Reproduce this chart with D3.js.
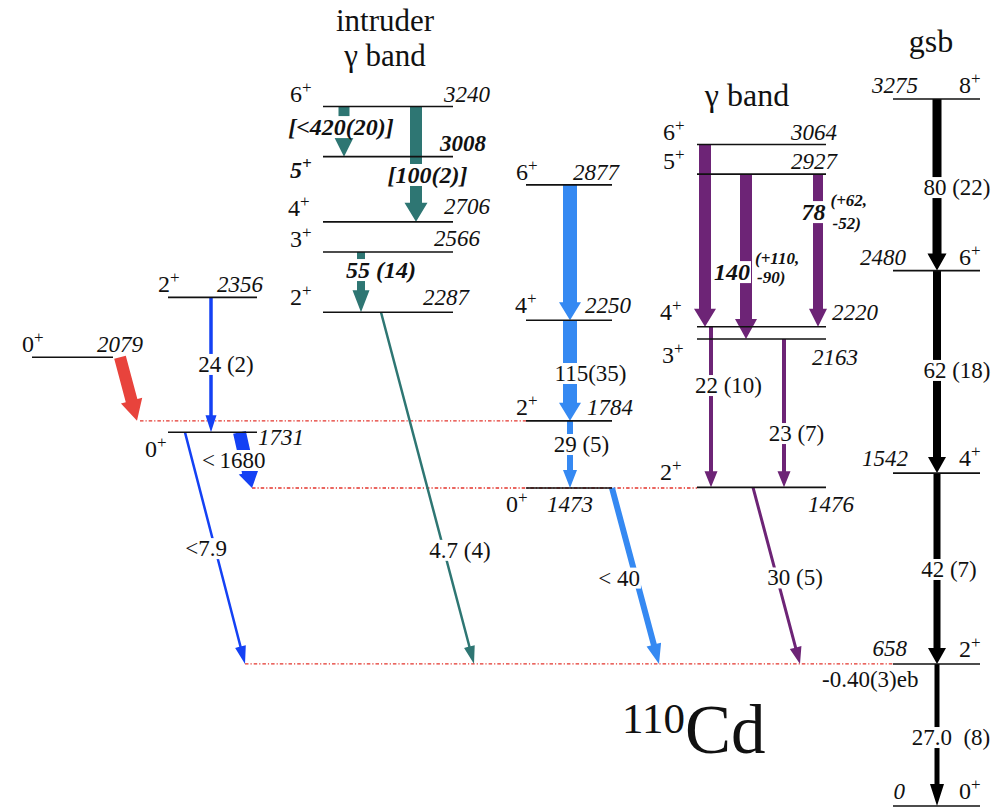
<!DOCTYPE html>
<html><head><meta charset="utf-8">
<script src="https://cdn.jsdelivr.net/npm/d3@7/dist/d3.min.js"></script>
<style>
html,body{margin:0;padding:0;background:#fff;font-family:'Liberation Serif','DejaVu Serif',serif;}
svg{display:block;}
svg text{font-family:'Liberation Serif','DejaVu Serif',serif;white-space:pre;}
</style></head><body>
<svg id="chart" width="1007" height="809"></svg>
<script>
// ---- Level scheme data (energies in keV) ----
const levelEnergies = [0, 658, 1542, 2480, 3275, 2079, 2356, 1731, 2287, 2566, 2706, 3008, 3240, 1473, 1784, 2250, 2877, 1476, 2163, 2220, 2927, 3064];
const levelSpins    = ["0","2","4","6","8","0","2","0","2","3","4","5","6","0","2","4","6","2","3","4","5","6"];
const levelBands    = ["gsb","gsb","gsb","gsb","gsb","a","b","b","intr","intr","intr","intr","intr","mid","mid","mid","mid","gam","gam","gam","gam","gam"];

// ---- Transitions: initial level, final level, B(E2) label ----
const transFrom   = [3275, 2480, 1542, 658, 2079, 2356, 1731, 1731, 3240, 3240, 2566, 2287, 2877, 2250, 1784, 1473, 3064, 2927, 2927, 2220, 2163, 1476];
const transTo     = [2480, 1542, 658, 0, 1784, 1731, 1473, 658, 3008, 2706, 2287, 658, 2250, 1784, 1473, 658, 2220, 2163, 2220, 1476, 1476, 658];
const transLabels = ["80 (22)", "62 (18)", "42 (7)", "27.0  (8)", "", "24 (2)", "<\u20091680", "<7.9", "[<420(20)]", "[100(2)]", "55 (14)", "4.7 (4)", "", "115(35)", "29 (5)", "< 40", "", "140", "78", "22 (10)", "23 (7)", "30 (5)"];
const transExtra  = {17: ["(+110,", "-90)"], 18: ["(+62,", "-52)"]};

// Reference lines joining levels across bands
const guideEnergies = [1784, 1473, 658];

const bandTitles = [["intruder", "\u03b3 band"], ["\u03b3 band"], ["gsb"]];
const quadMoment = "-0.40(3)eb";
const nucleusMass = "110", nucleusName = "Cd";

// ---- Layout ----
const FONT = "'Liberation Serif','DejaVu Serif',serif";
const svg = d3.select("#chart").attr("font-family", FONT);
const y = d3.scaleLinear().domain([0, 3275]).range([806, 99]);

const bandSpan = {gsb:[893,980], a:[32,113], b:[168,257], intr:[323,453], mid:[526,612], gam:[697,826]};
const bandColor = {gsb:"#000000", a:"#e8433c", b:"#1441f4", intr:"#2e7673", mid:"#3589f2", gam:"#6d2476"};

// spin label [x, dy, anchor, bold], energy label [x, dy, anchor, bold]
const levelLabelPos = {
  0:[[959,-7,"start"],[905,-7,"end"]],
  658:[[959,-7,"start"],[907,-8,"end"]],
  1542:[[959,-7,"start"],[908,-7,"end"]],
  2480:[[959,-6,"start"],[906,-6,"end"]],
  3275:[[959,-6,"start"],[918,-6,"end"]],
  2079:[[22,-5,"start"],[97,-5,"start"]],
  2356:[[158,-5,"start"],[217,-5,"start"]],
  1731:[[145,25,"start"],[258,13,"start"]],
  3240:[[290,-5,"start"],[490,-5,"end"]],
  3008:[[290,21,"start",true],[486,-6,"end",true]],
  2706:[[288,-6,"start"],[490,-8,"end"]],
  2566:[[290,-5,"start"],[480,-6,"end"]],
  2287:[[290,-7,"start"],[469,-7,"end"]],
  2877:[[516,-5,"start"],[573,-5,"start"]],
  2250:[[515,-7,"start"],[585,-7,"start"]],
  1784:[[516,-6,"start"],[587,-6,"start"]],
  1473:[[506,24,"start"],[547,24,"start"]],
  3064:[[663,-5,"start"],[837,-5,"end"]],
  2927:[[663,-5,"start"],[837,-5,"end"]],
  2220:[[660,-7,"start"],[832,-7,"start"]],
  2163:[[662,24,"start"],[812,26,"start"]],
  1476:[[660,-7,"start"],[808,25,"start"]]
};

// arrow geometry per transition: x at top, x at bottom, shaft width, head width, head length,
// label position t along arrow, horizontal offset, bold-italic flag, side-note line offsets
const transLayout = [
  {x:[937,937], w:9,  hw:19, hl:17, t:0.516, dx:20},
  {x:[937,937], w:8,  hw:18, hl:16, t:0.493, dx:20},
  {x:[937,937], w:7,  hw:18, hl:16, t:0.505, dx:12},
  {x:[937,937], w:5,  hw:14, hl:22, t:0.518, dx:14},
  {x:[120,137], w:12, hw:22, hl:21},
  {x:[211,211], w:3.5,hw:11, hl:17, t:0.497, dx:15},
  {x:[239.5,252], w:13, hw:20, hl:16, t:0.506, dx:-12},
  {x:[185,245], w:2.5,hw:11, hl:18, t:0.502, dx:-9},
  {x:[344,344], w:11, hw:20, hl:20, t:0.42,  dx:-3, bold:true},
  {x:[416,416], w:12, hw:23, hl:19, t:0.598, dx:11.5, bold:true},
  {x:[361,361], w:8,  hw:17, hl:22, t:0.307, dx:20, bold:true},
  {x:[381,474], w:2.5,hw:11, hl:18, t:0.677, dx:16},
  {x:[570,570], w:14, hw:22, hl:18},
  {x:[570,570], w:14, hw:22, hl:18, t:0.529, dx:20.5},
  {x:[570,570], w:6,  hw:14, hl:18, t:0.352, dx:11.5},
  {x:[612,659], w:6,  hw:15, hl:20, t:0.512, dx:-17},
  {x:[705,705], w:12, hw:22, hl:18},
  {x:[746,746], w:12, hw:22, hl:20, t:0.597, dx:-14, bold:true, note:[-8.5, 10.5]},
  {x:[818,818], w:10, hw:18, hl:18, t:0.252, dx:-4.5, bold:true, note:[-6.5, 16.5]},
  {x:[711,711], w:4,  hw:13, hl:16, t:0.366, dx:17.5},
  {x:[784,784], w:4,  hw:13, hl:16, t:0.637, dx:12.5},
  {x:[753,800], w:3,  hw:12, hl:17, t:0.513, dx:18}
];

const guideSpan = {1784:[140,526], 1473:[252,697], 658:[245,893]};

const bandOf = e => levelBands[levelEnergies.indexOf(e)];

// ---- Guide lines (dash-dot) ----
svg.append("g").selectAll("line").data(guideEnergies).join("line")
  .attr("x1", e => guideSpan[e][0]).attr("x2", e => guideSpan[e][1])
  .attr("y1", e => y(e)).attr("y2", e => y(e))
  .attr("stroke", "#e3342c").attr("stroke-width", 1.3)
  .attr("stroke-dasharray", "3.5,2,1.2,2");

// ---- Transition arrows ----
function arrowPoints(x1, y1, x2, y2, w, hw, hl) {
  const dx = x2 - x1, dy = y2 - y1, L = Math.hypot(dx, dy);
  const ux = dx / L, uy = dy / L, nx = -uy, ny = ux;
  const bx = x2 - ux * hl, by = y2 - uy * hl;
  return [
    [x1 + nx*w/2, y1 + ny*w/2], [bx + nx*w/2, by + ny*w/2], [bx + nx*hw/2, by + ny*hw/2],
    [x2, y2],
    [bx - nx*hw/2, by - ny*hw/2], [bx - nx*w/2, by - ny*w/2], [x1 - nx*w/2, y1 - ny*w/2]
  ];
}
const poly = d3.line();
const trans = transFrom.map((f, i) => ({from: f, to: transTo[i], label: transLabels[i], lay: transLayout[i], i}));

svg.append("g").selectAll("path").data(trans).join("path")
  .attr("d", d => poly(arrowPoints(d.lay.x[0], y(d.from), d.lay.x[1], y(d.to), d.lay.w, d.lay.hw, d.lay.hl)) + "Z")
  .attr("fill", d => bandColor[bandOf(d.from)]);

// ---- Level lines ----
svg.append("g").selectAll("line").data(levelEnergies).join("line")
  .attr("x1", (e, i) => bandSpan[levelBands[i]][0]).attr("x2", (e, i) => bandSpan[levelBands[i]][1])
  .attr("y1", e => y(e)).attr("y2", e => y(e))
  .attr("stroke", "#111").attr("stroke-width", 1.6);

// ---- Level labels ----
const lab = svg.append("g").attr("fill", "#111").attr("font-family", FONT);
levelEnergies.forEach((e, i) => {
  const [sp, ep] = levelLabelPos[e];
  const ly = y(e);
  const st = lab.append("text").attr("x", sp[0]).attr("y", ly + sp[1]).attr("text-anchor", sp[2])
    .attr("font-size", 24).attr("font-style", sp[3] ? "italic" : "normal").attr("font-weight", sp[3] ? "bold" : "normal");
  st.append("tspan").text(levelSpins[i]);
  st.append("tspan").attr("dy", -9).attr("font-size", 17).text("+");
  lab.append("text").attr("x", ep[0]).attr("y", ly + ep[1]).attr("text-anchor", ep[2])
    .attr("font-size", 23).attr("font-style", "italic").attr("font-weight", ep[3] ? "bold" : "normal")
    .text(e);
});

// ---- Transition labels on white boxes ----
const tl = svg.append("g").attr("font-family", FONT);
trans.filter(d => d.label).forEach(d => {
  const L = d.lay, y1 = y(d.from), y2 = y(d.to);
  const cx = L.x[0] + (L.x[1] - L.x[0]) * L.t + L.dx;
  const cy = y1 + (y2 - y1) * L.t;
  const g = tl.append("g");
  const r = g.append("rect").attr("fill", "#fff");
  const t = g.append("text").attr("x", cx).attr("y", cy + 7.5).attr("text-anchor", "middle")
    .attr("font-size", L.bold ? 24 : 23)
    .attr("font-style", L.bold ? "italic" : "normal").attr("font-weight", L.bold ? "bold" : "normal")
    .attr("fill", "#111").text(d.label);
  const b = t.node().getBBox();
  r.attr("x", b.x - 1).attr("y", b.y + 2).attr("width", b.width + 2).attr("height", b.height - 4);
  const extra = transExtra[d.i];
  if (extra) {
    const ex = b.x + b.width + 5;
    const g2 = tl.append("g");
    const r2 = g2.append("rect").attr("fill", "#fff");
    const t2 = g2.append("text").attr("font-size", 17).attr("font-style", "italic").attr("font-weight", "bold").attr("fill", "#111");
    t2.append("tspan").attr("x", ex).attr("y", cy + L.note[0]).text(extra[0]);
    t2.append("tspan").attr("x", ex + 2).attr("y", cy + L.note[1]).text(extra[1]);
    const b2 = t2.node().getBBox();
    r2.attr("x", b2.x - 2).attr("y", b2.y + 2).attr("width", b2.width + 4).attr("height", b2.height - 4);
  }
});

// ---- Band titles ----
const titles = svg.append("g").attr("fill", "#111").attr("text-anchor", "middle").attr("font-size", 31).attr("font-family", FONT);
titles.append("text").attr("x", 385).attr("y", 31).text(bandTitles[0][0]);
titles.append("text").attr("x", 385).attr("y", 66).text(bandTitles[0][1]);
titles.append("text").attr("x", 747).attr("y", 106).attr("font-size", 32).text(bandTitles[1][0]);
titles.append("text").attr("x", 931).attr("y", 52).attr("font-size", 32).text(bandTitles[2][0]);

// ---- Quadrupole moment of the 2+ state ----
svg.append("text").attr("x", 822).attr("y", 687).attr("font-size", 23).attr("fill", "#111").attr("font-family", FONT).text(quadMoment);

// ---- Nucleus label ----
const nuc = svg.append("text").attr("x", 622).attr("y", 753).attr("fill", "#111").attr("font-family", FONT);
nuc.append("tspan").attr("font-size", 43).attr("dy", -20).text(nucleusMass);
nuc.append("tspan").attr("font-size", 69).attr("dy", 20).text(nucleusName);
</script>
</body></html>
